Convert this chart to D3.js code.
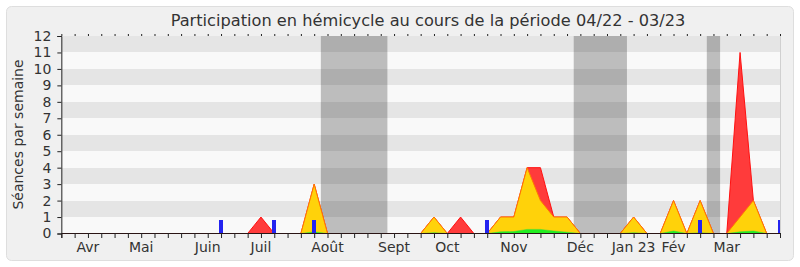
<!DOCTYPE html>
<html>
<head>
<meta charset="utf-8">
<script src="https://cdn.jsdelivr.net/npm/d3@7"></script>
<style>
  body { margin: 0; background: #fff; }
  text { font-family: "DejaVu Sans", sans-serif; fill: #333; }
</style>
</head>
<body>
<svg id="chart" width="800" height="267"></svg>
<script>
// weekly values, index 0..54
var weeks = d3.range(0, 55);
var red = weeks.map(function() { return 0; });
var yellow = weeks.map(function() { return 0; });
var green = weeks.map(function() { return 0; });

// week index -> value
var redPoints = [[15, 1], [19, 3], [28, 1], [30, 1], [33, 1], [34, 1], [35, 4], [36, 4], [37, 1], [38, 1],
                 [43, 1], [46, 2], [48, 2], [51, 11], [52, 2]];
var yellowPoints = [[19, 3], [28, 1], [33, 1], [34, 1], [35, 4], [36, 2], [37, 1], [38, 1],
                    [43, 1], [46, 2], [48, 2], [51, 1], [52, 2]];
var greenPoints = [[19, 0.1], [28, 0.05], [33, 0.1], [34, 0.12], [35, 0.25], [36, 0.25], [37, 0.15], [38, 0.08],
                   [43, 0.05], [46, 0.15], [48, 0.05], [51, 0.1], [52, 0.15]];
redPoints.forEach(function(p) { red[p[0]] = p[1]; });
yellowPoints.forEach(function(p) { yellow[p[0]] = p[1]; });
greenPoints.forEach(function(p) { green[p[0]] = p[1]; });

var blueWeeks = [12, 16, 19, 32, 48, 54];
var blueValue = 0.85;
var vacations = [[19.5, 24.5], [38.5, 42.5], [48.5, 49.5]];

var monthLabels = ['Avr', 'Mai', 'Juin', 'Juil', 'Août', 'Sept', 'Oct', 'Nov', 'Déc', 'Jan 23', 'Fév', 'Mar'];
var monthWeeks = [2, 6, 11, 15, 20, 25, 29, 34, 39, 43, 46, 50];
var yTicks = d3.range(0, 13);

var svg = d3.select('#chart');
var plotLeft = 61.33, plotRight = 780, plotTop = 36, plotBottom = 233;

var x = d3.scaleLinear().domain([0, 54]).range([plotLeft, plotRight]);
var y = d3.scaleLinear().domain([0, 12]).range([plotBottom + 0.5, plotTop]);

svg.append('rect')
  .attr('x', 6.5).attr('y', 6.5)
  .attr('width', 787).attr('height', 254)
  .attr('rx', 5)
  .style('fill', '#f0f0f0')
  .style('stroke', '#dedede');

svg.append('text')
  .attr('x', 428).attr('y', 26)
  .attr('text-anchor', 'middle')
  .style('font-size', '16.2px')
  .text('Participation en hémicycle au cours de la période 04/22 - 03/23');

var plot = svg.append('g');

plot.append('defs').append('clipPath').attr('id', 'clip')
  .append('rect')
  .attr('x', plotLeft).attr('y', plotTop)
  .attr('width', plotRight - plotLeft).attr('height', plotBottom - plotTop);

// stripes
plot.selectAll('rect.stripe')
  .data(d3.range(0, 12))
  .enter().append('rect')
  .attr('class', 'stripe')
  .attr('x', plotLeft)
  .attr('y', function(d) { return Math.round(y(d + 1)); })
  .attr('width', plotRight - plotLeft)
  .attr('height', function(d) { return Math.round(y(d)) - Math.round(y(d + 1)); })
  .style('fill', function(d) { return d % 2 === 0 ? '#f9f9f9' : '#e5e5e5'; });

// vacations
plot.selectAll('rect.vac')
  .data(vacations)
  .enter().append('rect')
  .attr('class', 'vac')
  .attr('x', function(d) { return x(d[0]); })
  .attr('y', plotTop)
  .attr('width', function(d) { return x(d[1]) - x(d[0]); })
  .attr('height', plotBottom - plotTop)
  .style('fill', '#000')
  .style('opacity', 0.24);

var area = function(values) {
  return d3.area()
    .x(function(d, i) { return x(i); })
    .y0(y(0))
    .y1(function(d) { return y(d); })(values);
};

var g = plot.append('g').attr('clip-path', 'url(#clip)');

g.append('path')
  .attr('d', area(red))
  .style('fill', '#ff3b3b')
  .style('stroke', '#ff1010')
  .style('stroke-width', 1);

g.append('path')
  .attr('d', area(yellow))
  .style('fill', '#ffd20a')
  .style('stroke', '#ff7a00')
  .style('stroke-width', 1);

g.append('path')
  .attr('d', area(green))
  .style('fill', '#22ee22')
  .style('stroke', '#3cdc3c')
  .style('stroke-width', 0.5);

g.selectAll('rect.blue')
  .data(blueWeeks)
  .enter().append('rect')
  .attr('class', 'blue')
  .attr('x', function(d) { return Math.round(x(d)) - 2; })
  .attr('y', Math.round(y(blueValue)))
  .attr('width', 4)
  .attr('height', function() { return plotBottom - Math.round(y(blueValue)); })
  .style('fill', '#2424f0');

// right border line
plot.append('line')
  .attr('x1', plotRight + 0.5).attr('x2', plotRight + 0.5)
  .attr('y1', plotTop).attr('y2', plotBottom)
  .style('stroke', '#d0d0d0');

// axes
var yAxis = plot.append('g')
  .attr('transform', 'translate(' + plotLeft + ',0)')
  .call(d3.axisLeft(y).tickValues(yTicks).tickSize(4).tickPadding(6).tickFormat(d3.format('d')));
yAxis.select('.domain').style('stroke', '#222');
yAxis.selectAll('.tick line').style('stroke', '#222');
yAxis.selectAll('.tick text').style('font-size', '14px').style('fill', '#333').style('font-family', '"DejaVu Sans", sans-serif');

var xAxis = plot.append('g')
  .attr('transform', 'translate(0,' + plotBottom + ')')
  .call(d3.axisBottom(x).tickValues(weeks).tickSize(5).tickFormat(''));
xAxis.select('.domain').style('stroke', '#2a1414');
xAxis.selectAll('.tick line').style('stroke', '#222');

var topTicks = plot.append('g')
  .attr('transform', 'translate(0,' + plotTop + ')')
  .call(d3.axisTop(x).tickValues(weeks).tickSize(2).tickSizeOuter(0).tickFormat(''));
topTicks.select('.domain').remove();
topTicks.selectAll('.tick line').style('stroke', '#222');

plot.selectAll('text.month')
  .data(monthLabels)
  .enter().append('text')
  .attr('class', 'month')
  .attr('x', function(d, i) { return x(monthWeeks[i]); })
  .attr('y', 252)
  .attr('text-anchor', 'middle')
  .style('font-size', '14px')
  .text(function(d) { return d; });

svg.append('text')
  .attr('transform', 'translate(23,' + ((plotTop + plotBottom) / 2) + ') rotate(-90)')
  .attr('text-anchor', 'middle')
  .style('font-size', '14px')
  .text('Séances par semaine');
</script>
</body>
</html>
